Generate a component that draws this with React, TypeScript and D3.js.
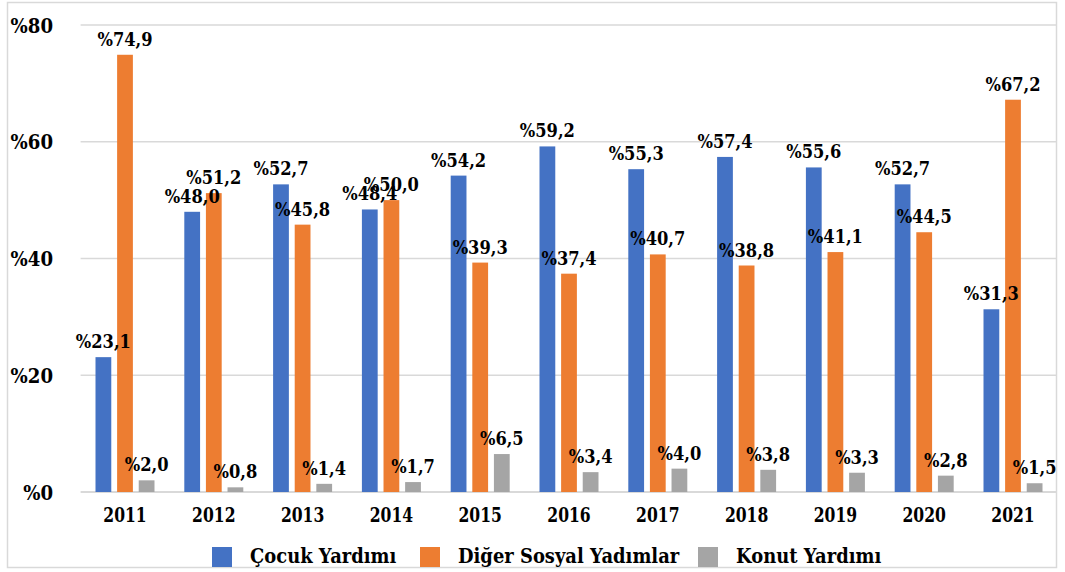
import React from "react";
import * as d3 from "d3";

const years = ["2011", "2012", "2013", "2014", "2015", "2016", "2017", "2018", "2019", "2020", "2021"];
const cocuk = [23.1, 48.0, 52.7, 48.4, 54.2, 59.2, 55.3, 57.4, 55.6, 52.7, 31.3];
const diger = [74.9, 51.2, 45.8, 50.0, 39.3, 37.4, 40.7, 38.8, 41.1, 44.5, 67.2];
const konut = [2.0, 0.8, 1.4, 1.7, 6.5, 3.4, 4.0, 3.8, 3.3, 2.8, 1.5];
const seriesNames = ["Çocuk Yardımı", "Diğer Sosyal Yadımlar", "Konut Yardımı"];
const yTicks = [0, 20, 40, 60, 80];

const colors = ["#4472C4", "#ED7D31", "#A5A5A5"];
const FONT = "DejaVu Serif";

type TProps = {
  x: number;
  y: number;
  size: number;
  sx: number;
  anchor?: "start" | "middle" | "end";
  children: React.ReactNode;
};

function T({ x, y, size, sx, anchor = "start", children }: TProps) {
  return (
    <text
      transform={`translate(${x},${y}) scale(${sx},1)`}
      textAnchor={anchor}
      fontSize={size}
      fontFamily={FONT}
      fontWeight="bold"
      fill="#000"
    >
      {children}
    </text>
  );
}

export default function App() {
  const W = 1065, H = 572;
  const left = 80.6, right = 1057.4, top = 25, bottom = 492;
  const x = d3.scaleBand<string>().domain(years).range([left, right]).padding(0);
  const y = d3.scaleLinear().domain([0, 80]).range([bottom, top]);
  const series = [cocuk, diger, konut];
  const inner = d3.scaleBand<number>().domain([0, 1, 2]).range([-29.5, 29.5]).paddingInner(0.27);
  const fmt = (v: number) => "%" + v.toFixed(1).replace(".", ",");
  const cx = (yr: string) => (x(yr) as number) + x.bandwidth() / 2;
  const bw = inner.bandwidth();

  const legendX = [212, 420, 698];

  return (
    <svg width={W} height={H} style={{ position: "absolute", left: 0, top: 0 }}>
      <rect x={0} y={0} width={W} height={H} fill="#fff" />
      <rect x={7.5} y={2.5} width={1049} height={565} fill="none" stroke="#D9D9D9" strokeWidth={1.5} />
      {yTicks.map((t) => (
        <g key={t}>
          <line x1={left} x2={1056} y1={y(t)} y2={y(t)} stroke="#D9D9D9" strokeWidth={t === 0 ? 2 : 1.5} />
          <T x={53} y={y(t) + 7.5} size={19.5} sx={0.93} anchor="end">
            {"%" + t}
          </T>
        </g>
      ))}
      {years.map((yr, i) => (
        <g key={yr}>
          {series.map((s, j) => (
            <rect
              key={j}
              x={cx(yr) + (inner(j) as number)}
              y={y(s[i])}
              width={bw}
              height={bottom - y(s[i])}
              fill={colors[j]}
            />
          ))}
          <T x={cx(yr)} y={521.5} size={19.5} sx={0.8} anchor="middle">
            {yr}
          </T>
        </g>
      ))}
      {years.map((yr, i) =>
        series.map((s, j) => (
          <T key={yr + j} x={cx(yr) + (inner(j) as number) + bw / 2} y={y(s[i]) - 9} size={18.5} sx={0.88} anchor="middle">
            {fmt(s[i])}
          </T>
        ))
      )}
      {seriesNames.map((n, j) => (
        <g key={n}>
          <rect x={legendX[j]} y={547} width={20} height={20} fill={colors[j]} />
          <T x={legendX[j] + 38} y={563} size={19.5} sx={0.92}>
            {n}
          </T>
        </g>
      ))}
    </svg>
  );
}
